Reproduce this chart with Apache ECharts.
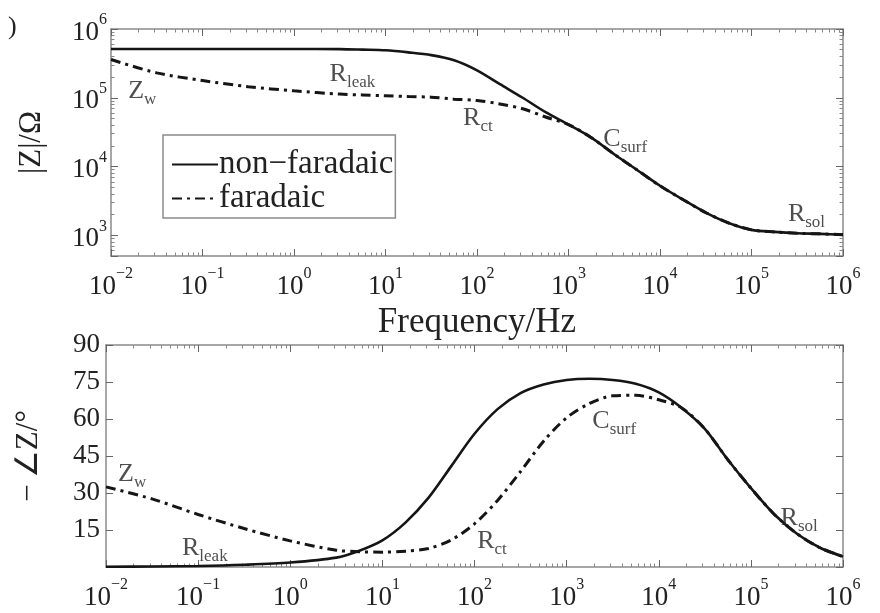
<!DOCTYPE html>
<html>
<head>
<meta charset="utf-8">
<script src="https://cdn.jsdelivr.net/npm/echarts@6/dist/echarts.min.js"></script>
<style>
  html, body { margin: 0; padding: 0; background: #fff; }
  #chart-wrapper { width: 880px; height: 613px; }
</style>
</head>
<body>
<div id="chart-wrapper"></div>
<script>
// frequency grid, Hz
const freq = [0.01, 0.0316, 0.1, 0.316, 1, 3.16, 5.62, 10, 17.8, 31.6, 56.2, 100, 178, 316, 562,
  1000, 1778, 3162, 5623, 10000, 17783, 31623, 56234, 100000, 177828, 316228, 562341, 1000000];

// |Z| in ohm
const magNonFaradaic = [513000, 513000, 513000, 513000, 513000, 510000, 501000, 490000, 457000, 417000, 351000,
  251000, 158000, 100000, 61700, 40700, 26300, 15100, 8900, 5250, 3310, 2140, 1510, 1200, 1120, 1070, 1050, 1020];
const magFaradaic = [360000, 230000, 178000, 145000, 126000, 113000, 110000, 107000, 104000, 102000, 95500,
  91200, 81300, 69200, 52500, 40700, 26300, 15100, 8900, 5250, 3310, 2140, 1510, 1200, 1120, 1070, 1050, 1020];

// -phase in degrees
const phaseNonFaradaic = [0.1, 0.2, 0.4, 0.9, 1.8, 3.8, 6.6, 10.8, 18, 28, 41, 54, 64, 70.5, 74, 75.8, 76.3,
  75.8, 74.3, 70.8, 64.5, 56, 43.5, 32, 21.5, 13.5, 7.8, 4.2];
const phaseFaradaic = [32.5, 27.6, 21.3, 15.6, 10.6, 6.8, 6.2, 6.0, 6.4, 7.5, 11, 17.5, 27, 38.7, 51, 60.5, 66.3,
  69.4, 69.6, 67.8, 64.5, 56, 43.5, 32, 21.5, 13.5, 7.8, 4.2];

// circuit element annotations: [freq, value, main, subscript]
const magNotes = [[0.0154, 138000, 'Z', 'w'], [2.45, 245000, 'R', 'leak'], [70.5, 56000, 'R', 'ct'],
  [2400, 27500, 'C', 'surf'], [250000, 2240, 'R', 'sol']];
const phaseNotes = [[0.0135, 38.9, 'Z', 'w'], [0.0668, 8.9, 'R', 'leak'], [107, 11.8, 'R', 'ct'],
  [1900, 60.4, 'C', 'surf'], [210000, 21.1, 'R', 'sol']];

const seriesNames = ['non\u2212faradaic', 'faradaic'];
const phaseTicks = [15, 30, 45, 60, 75, 90];

const serif = '"Liberation Serif", "Times New Roman", serif';
const ink = '#151515';
const frame = '#8a8a8a';
const solidStyle = { color: ink, width: 2.6, type: 'solid' };
const dashStyle = { color: ink, width: 3, type: [10, 5, 3, 5] };

const pow10 = (v) => {
  const e = Math.log10(v);
  const r = Math.round(e);
  if (Math.abs(e - r) > 1e-6) return '';
  return '{b|10}{s|' + (r < 0 ? '\u2212' + (-r) : r) + '}';
};

const powRich = {
  b: { fontFamily: serif, fontSize: 27, color: '#222', lineHeight: 34, verticalAlign: 'bottom' },
  s: { fontFamily: serif, fontSize: 16, color: '#222', lineHeight: 16, verticalAlign: 'top' },
};

const noteRich = {
  m: { fontFamily: serif, fontSize: 26, color: '#222', lineHeight: 30, verticalAlign: 'top' },
  s: { fontFamily: serif, fontSize: 17, color: '#222', lineHeight: 17, verticalAlign: 'bottom' },
};

const mirrorTick = { show: true, inside: true, length: 7, lineStyle: { color: '#666', width: 1 } };
const minor = { show: true, splitNumber: 9, length: 3.5, lineStyle: { color: '#888', width: 1 } };

const logX = (gridIndex, position, labels) => ({
  type: 'log', gridIndex, position, min: 0.01, max: 1e6, splitNumber: 8,
  axisLine: { show: true, onZero: false, lineStyle: { color: frame, width: 1.5 } },
  axisTick: mirrorTick, minorTick: minor, splitLine: { show: false },
  axisLabel: labels ? { show: true, margin: 10, formatter: pow10, rich: powRich } : { show: false },
});

const pairs = (ys) => freq.map((f, i) => [f, ys[i]]);

const noteSeries = (notes, xi, yi) => ({
  type: 'scatter', xAxisIndex: xi, yAxisIndex: yi, silent: true, symbolSize: 0,
  data: notes,
  label: {
    show: true, position: 'right', distance: 0, offset: [0, 5],
    formatter: (p) => '{m|' + p.value[2] + '}{s|' + p.value[3] + '}',
    rich: noteRich,
  },
  z: 5,
});

const chart = echarts.init(document.getElementById('chart-wrapper'), null, { renderer: 'canvas' });

const option = {
  backgroundColor: '#fff',
  animation: false,
  grid: [
    { left: 111, right: 37, top: 29, height: 227 },
    { left: 106, right: 37, top: 345, height: 222 },
  ],
  legend: {
    data: seriesNames,
    orient: 'vertical',
    left: 163, top: 135,
    padding: [13, 2, 3, 8],
    itemGap: 1,
    itemWidth: 46, itemHeight: 14,
    itemStyle: { opacity: 0, borderWidth: 0 },
    borderColor: frame, borderWidth: 1.5,
    backgroundColor: '#fff',
    textStyle: { fontFamily: serif, fontSize: 33, color: '#222', padding: [0, 0, 0, -4] },
  },
  graphic: [
    { type: 'text', left: 8, top: 14, style: { text: ')', font: '26px ' + serif, fill: '#222' } },
  ],
  xAxis: [
    Object.assign(logX(0, 'bottom', true), {
      name: 'Frequency/Hz', nameLocation: 'middle', nameGap: 49,
      nameTextStyle: { fontFamily: serif, fontSize: 35, color: '#222' },
    }),
    logX(0, 'top', false),
    logX(1, 'bottom', true),
    logX(1, 'top', false),
  ],
  yAxis: [
    {
      type: 'log', gridIndex: 0, position: 'left', min: 500, max: 1e6, splitNumber: 3,
      name: '|Z|/\u03A9', nameLocation: 'middle', nameGap: 64, nameRotate: 90,
      nameTextStyle: { fontFamily: serif, fontSize: 31, color: '#222' },
      axisLine: { show: true, lineStyle: { color: frame, width: 1.5 } },
      axisTick: mirrorTick, minorTick: minor, splitLine: { show: false },
      axisLabel: { margin: 4, formatter: pow10, rich: powRich, showMinLabel: false },
    },
    {
      type: 'log', gridIndex: 0, position: 'right', min: 500, max: 1e6, splitNumber: 3,
      axisLine: { show: true, lineStyle: { color: frame, width: 1.5 } },
      axisTick: mirrorTick, minorTick: minor, splitLine: { show: false },
      axisLabel: { show: false },
    },
    {
      type: 'value', gridIndex: 1, position: 'left', min: 0, max: 90, interval: 15,
      name: '\u2212\u2009\u2220Z/\u00B0', nameLocation: 'middle', nameGap: 62, nameRotate: 90,
      nameTextStyle: { fontFamily: serif, fontSize: 31, color: '#222' },
      axisLine: { show: true, lineStyle: { color: frame, width: 1.5 } },
      axisTick: mirrorTick, splitLine: { show: false },
      axisLabel: {
        margin: 6, fontFamily: serif, fontSize: 27, color: '#222',
        formatter: (v) => (phaseTicks.indexOf(v) >= 0 ? String(v) : ''),
      },
    },
    {
      type: 'value', gridIndex: 1, position: 'right', min: 0, max: 90, interval: 15,
      axisLine: { show: true, lineStyle: { color: frame, width: 1.5 } },
      axisTick: mirrorTick, splitLine: { show: false },
      axisLabel: { show: false },
    },
  ],
  series: [
    { name: seriesNames[0], type: 'line', xAxisIndex: 0, yAxisIndex: 0, data: pairs(magNonFaradaic),
      smooth: 0.3, symbol: 'none', lineStyle: solidStyle, itemStyle: { color: ink }, z: 3 },
    { name: seriesNames[1], type: 'line', xAxisIndex: 0, yAxisIndex: 0, data: pairs(magFaradaic),
      smooth: 0.3, symbol: 'none', lineStyle: dashStyle, itemStyle: { color: ink }, z: 2 },
    { name: seriesNames[0], type: 'line', xAxisIndex: 2, yAxisIndex: 2, data: pairs(phaseNonFaradaic),
      smooth: 0.3, symbol: 'none', lineStyle: solidStyle, itemStyle: { color: ink }, z: 3 },
    { name: seriesNames[1], type: 'line', xAxisIndex: 2, yAxisIndex: 2, data: pairs(phaseFaradaic),
      smooth: 0.3, symbol: 'none', lineStyle: dashStyle, itemStyle: { color: ink }, z: 2 },
    noteSeries(magNotes, 0, 0),
    noteSeries(phaseNotes, 2, 2),
  ],
};

chart.setOption(option);
</script>
</body>
</html>
